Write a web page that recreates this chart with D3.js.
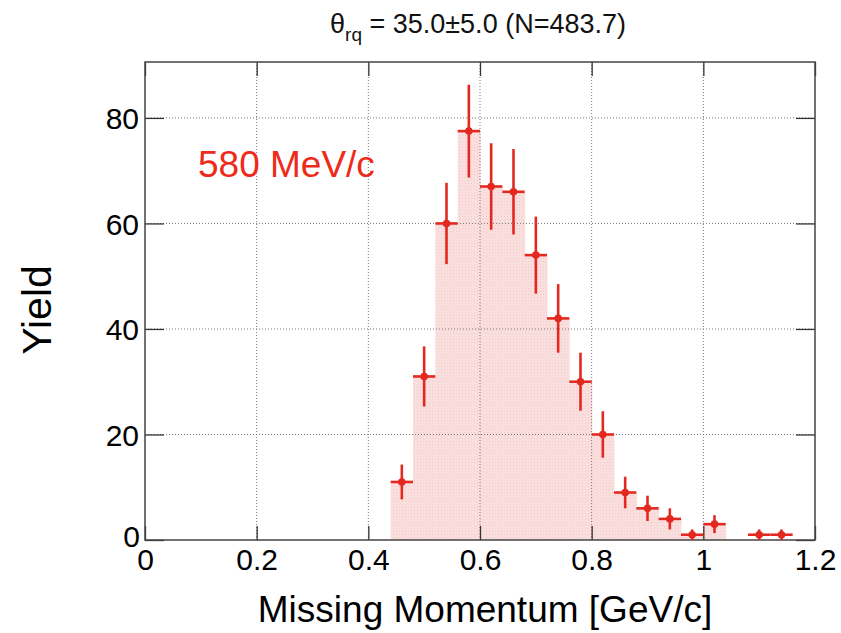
<!DOCTYPE html>
<html>
<head>
<meta charset="utf-8">
<script src="https://cdn.jsdelivr.net/npm/d3@7"></script>
<style>
  html, body { margin: 0; padding: 0; background: #fff; }
  svg { display: block; }
  text { font-family: "Liberation Sans", Arial, Helvetica, sans-serif; }
</style>
</head>
<body>
<svg id="chart" width="841" height="633"></svg>
<script>
// ---- data ----
const binEdgesLow = [0.44, 0.48, 0.52, 0.56, 0.60, 0.64, 0.68, 0.72, 0.76, 0.80, 0.84, 0.88, 0.92, 0.96, 1.00, 1.08, 1.12];
const binWidth = 0.04;
const yieldValues = [11, 31, 60, 77.5, 67, 66, 54, 42, 30, 20, 9, 6, 4, 1, 3, 1, 1];
const yieldErrors = [3.3, 5.7, 7.7, 8.8, 8.2, 8.1, 7.3, 6.5, 5.5, 4.4, 3.0, 2.4, 2.0, 1.0, 1.7, 1.0, 1.0];
const fillValues = [11, 31, 60, 77.5, 67, 66, 54, 42, 30, 20, 9, 6, 4, 1, 3, 0, 0];
const xTicks = [0, 0.2, 0.4, 0.6, 0.8, 1, 1.2];
const yTicks = [0, 20, 40, 60, 80];
const xDomain = [0, 1.2];
const yDomain = [0, 90.6];
const titleMain = "θ";
const titleSub = "rq";
const titleRest = " = 35.0±5.0 (N=483.7)";
const xTitle = "Missing Momentum [GeV/c]";
const yTitle = "Yield";
const labelText = "580 MeV/c";

// ---- layout ----
const svg = d3.select("#chart");
const L = 145, R = 815, T = 62, B = 540;
const x = d3.scaleLinear().domain(xDomain).range([L, R]);
const y = d3.scaleLinear().domain(yDomain).range([B, T]);
const red = "#e3291f";
const FONT = "'Liberation Sans', Arial, Helvetica, sans-serif";

// fill pattern (fine dither)
const defs = svg.append("defs");
const pat = defs.append("pattern").attr("id", "dither").attr("width", 3).attr("height", 3)
  .attr("patternUnits", "userSpaceOnUse");
pat.append("rect").attr("width", 3).attr("height", 3).attr("fill", "#fbe2e1");
pat.append("rect").attr("x", 0).attr("y", 0).attr("width", 1).attr("height", 1).attr("fill", "#f0c6c4");
pat.append("rect").attr("x", 1.5).attr("y", 1.5).attr("width", 1).attr("height", 1).attr("fill", "#f3cfcd");

// filled histogram
svg.append("g").selectAll("rect").data(binEdgesLow.map((lo, i) => ({lo, v: fillValues[i]})))
  .join("rect")
  .attr("x", d => x(d.lo))
  .attr("width", d => x(d.lo + binWidth) - x(d.lo) + 0.5)
  .attr("y", d => y(d.v))
  .attr("height", d => y(0) - y(d.v))
  .attr("fill", "url(#dither)");

// grid
const grid = svg.append("g").attr("stroke", "#777").attr("stroke-width", 1).attr("stroke-dasharray", "1,2");
grid.selectAll("line.gx").data(xTicks.filter(t => t > xDomain[0] && t < xDomain[1])).join("line")
  .attr("x1", d => x(d)).attr("x2", d => x(d)).attr("y1", T).attr("y2", B);
grid.selectAll("line.gy").data(yTicks.filter(t => t > 0)).join("line")
  .attr("x1", L).attr("x2", R).attr("y1", d => y(d)).attr("y2", d => y(d));

// axes (ticks inside frame)
const axisColor = "#333";
const gx = svg.append("g").attr("transform", `translate(0,${B})`)
  .call(d3.axisBottom(x).tickValues(xTicks).tickSize(-14).tickFormat(d3.format("~g")));
const gxTop = svg.append("g").attr("transform", `translate(0,${T})`)
  .call(d3.axisTop(x).tickValues(xTicks).tickSize(-14).tickFormat(""));
const gy = svg.append("g").attr("transform", `translate(${L},0)`)
  .call(d3.axisLeft(y).tickValues(yTicks).tickSize(-19).tickFormat(d3.format("~g")));
const gyR = svg.append("g").attr("transform", `translate(${R},0)`)
  .call(d3.axisRight(y).tickValues(yTicks).tickSize(-19).tickFormat(""));
[gx, gxTop, gy, gyR].forEach(g => {
  g.select(".domain").remove();
  g.selectAll(".tick line").attr("stroke", axisColor).attr("stroke-width", 1.3);
  g.selectAll(".tick text").attr("fill", "#000").style("font-size", "30px").style("font-family", FONT);
});
gx.selectAll(".tick text").attr("y", 30).attr("dy", 0);
gy.selectAll(".tick text").attr("x", -6).attr("dy", "0.36em");
gy.selectAll(".tick").filter(d => d === 0).select("text").attr("x", -5).attr("dy", "0.2em");

// frame
svg.append("rect").attr("x", L).attr("y", T).attr("width", R - L).attr("height", B - T)
  .attr("fill", "none").attr("stroke", "#444").attr("stroke-width", 1.5);

// data points with errors
const pts = binEdgesLow.map((lo, i) => ({lo, c: lo + binWidth / 2, v: yieldValues[i], e: yieldErrors[i]}));
const gp = svg.append("g").attr("stroke", red).attr("stroke-width", 2.6);
gp.selectAll("line.h").data(pts).join("line")
  .attr("x1", d => x(d.lo)).attr("x2", d => x(d.lo + binWidth))
  .attr("y1", d => y(d.v)).attr("y2", d => y(d.v));
gp.selectAll("line.v").data(pts).join("line")
  .attr("x1", d => x(d.c)).attr("x2", d => x(d.c))
  .attr("y1", d => y(Math.max(0, d.v - d.e))).attr("y2", d => y(d.v + d.e));
svg.append("g").selectAll("circle").data(pts).join("circle")
  .attr("cx", d => x(d.c)).attr("cy", d => y(d.v)).attr("r", 3.8).attr("fill", red);

// title
const tt = svg.append("text").attr("x", 478).attr("y", 33).attr("text-anchor", "middle")
  .style("font-size", "27px").attr("fill", "#111");
tt.append("tspan").text(titleMain);
tt.append("tspan").text(titleSub).attr("dy", 8).style("font-size", "19px");
tt.append("tspan").text(titleRest).attr("dy", -8);

// axis titles
svg.append("text").attr("x", 485).attr("y", 622).attr("text-anchor", "middle")
  .style("font-size", "37px").attr("fill", "#000").text(xTitle);
svg.append("text").attr("transform", "translate(51,310) rotate(-90)").attr("text-anchor", "middle")
  .style("font-size", "41px").attr("fill", "#000").text(yTitle);

// annotation
svg.append("text").attr("x", 198).attr("y", 177).style("font-size", "37px")
  .attr("fill", "#ee2a1a").text(labelText);
</script>
</body>
</html>
